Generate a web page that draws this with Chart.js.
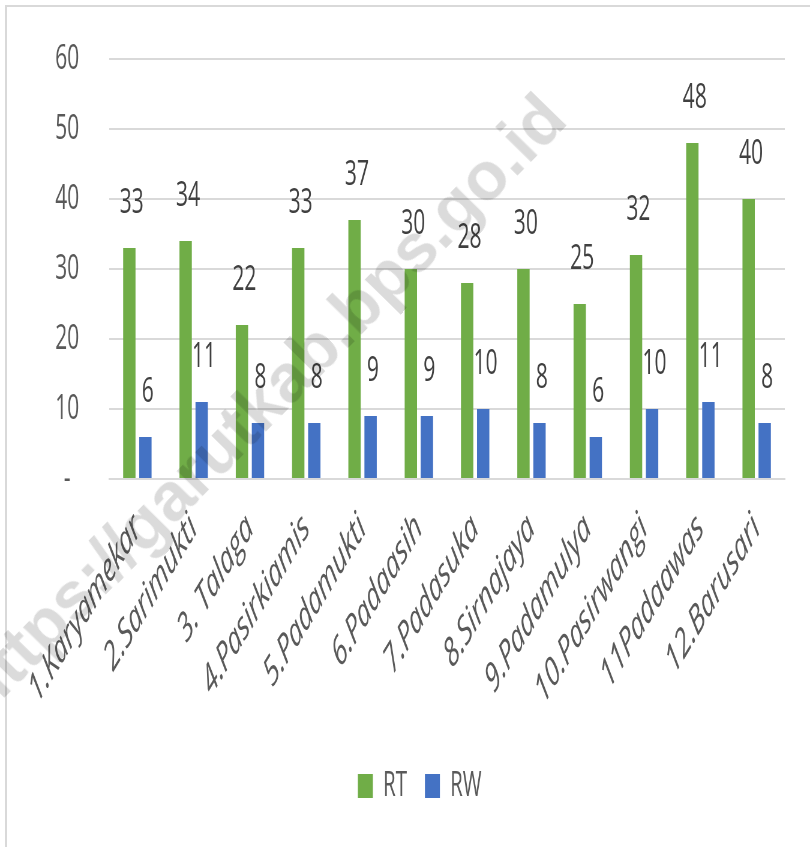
<!DOCTYPE html>
<html>
<head>
<meta charset="utf-8">
<script src="https://cdn.jsdelivr.net/npm/chart.js@4.4.0/dist/chart.umd.min.js"></script>
<style>
  html, body { margin: 0; padding: 0; background: #fff; }
  body { width: 810px; height: 847px; overflow: hidden; position: relative; }
  #frame { position: absolute; left: 5px; top: 5px; right: -5px; bottom: -5px;
           border-left: 2px solid #d9d9d9; border-top: 2px solid #d9d9d9; }
  /* the original picture is squeezed sideways, so the chart is drawn wide and squeezed */
  #wrap { position: absolute; left: 0; top: 0; width: 1350px; height: 847px;
          transform: scaleX(0.6); transform-origin: 0 0; }
  #mark { position: absolute; left: -16px; top: 660px; white-space: nowrap;
          font: bold 68px "Liberation Sans", Arial, sans-serif; line-height: 68px;
          color: rgba(0, 0, 0, 0.14); transform: rotate(-45.5deg); transform-origin: 0 57px;
          pointer-events: none; }
</style>
</head>
<body>
<div id="frame"></div>
<div id="wrap"><canvas id="desa"></canvas></div>
<div id="mark">https://garutkab.bps.go.id</div>
<script>
var desa = ['1.Karyamekar', '2.Sarimukti', '3. Talaga', '4.Pasirkiamis', '5.Padamukti', '6.Padaasih',
  '7.Padasuka', '8.Sirnajaya', '9.Padamulya', '10.Pasirwangi', '11Padaawas', '12.Barusari'];
var rt = [33, 34, 22, 33, 37, 30, 28, 30, 25, 32, 48, 40];
var rw = [6, 11, 8, 8, 9, 9, 10, 8, 6, 10, 11, 8];

// numbers over the bars
var barLabels = {
  id: 'barLabels',
  afterDatasetsDraw: function(chart) {
    var ctx = chart.ctx;
    ctx.save();
    ctx.font = '35px "Open Sans"';
    ctx.fillStyle = '#404040';
    ctx.textAlign = 'center';
    ctx.textBaseline = 'middle';
    chart.data.datasets.forEach(function(ds, i) {
      chart.getDatasetMeta(i).data.forEach(function(bar, j) {
        ctx.fillText(ds.data[j], bar.x + 4, bar.y - 45);
      });
    });
    ctx.restore();
  }
};

var ctx = document.getElementById('desa').getContext('2d');
var chart = new Chart(ctx, {
  type: 'bar',
  data: {
    labels: desa,
    datasets: [{
      label: 'RT',
      data: rt,
      backgroundColor: '#70ad47'
    }, {
      label: 'RW',
      data: rw,
      backgroundColor: '#4472c4'
    }]
  },
  options: {
    responsive: true,
    maintainAspectRatio: false,
    animation: false,
    barPercentage: 0.77,
    categoryPercentage: 0.57,
    layout: { padding: { left: 91, right: 42, top: 59, bottom: 34 } },
    plugins: {
      tooltip: { enabled: false },
      legend: {
        position: 'bottom',
        labels: {
          boxWidth: 25,
          boxHeight: 24,
          padding: 30,
          color: '#595959',
          font: { family: 'Open Sans', size: 34 }
        }
      }
    },
    scales: {
      x: {
        grid: { display: false },
        border: { color: '#d9d9d9', width: 2 },
        ticks: {
          autoSkip: false,
          minRotation: 45,
          maxRotation: 45,
          padding: 18,
          color: '#595959',
          font: { family: 'Open Sans', size: 40, style: 'italic' }
        },
        afterFit: function(scale) { scale.height = 260; }
      },
      y: {
        min: 0,
        max: 60,
        border: { display: false },
        grid: { color: '#d9d9d9', lineWidth: 2, drawTicks: false },
        ticks: {
          stepSize: 10,
          padding: 50,
          crossAlign: 'center',
          color: '#595959',
          // small line height keeps the top padding of the axis under the layout padding
          font: { family: 'Open Sans', size: 35, lineHeight: 0.4 },
          callback: function(v) { return v === 0 ? '-' : v; }
        },
        afterFit: function(scale) { scale.width = 91; }
      }
    }
  },
  plugins: [barLabels]
});
</script>
</body>
</html>
